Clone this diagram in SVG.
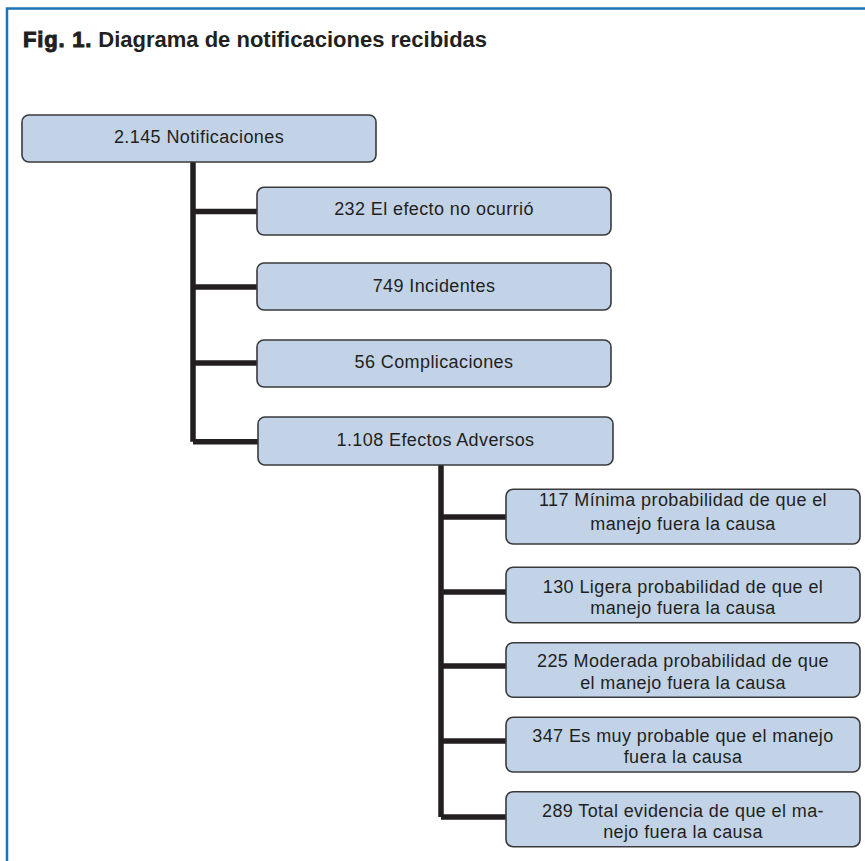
<svg xmlns="http://www.w3.org/2000/svg" width="865" height="861" viewBox="0 0 865 861">
<style>
.frame{stroke:#1b74b4;stroke-width:2.5;fill:none}
.box{fill:#c2d3e7;stroke:#3a3a3c;stroke-width:1.6}
.lbl{font-family:"Liberation Sans",Arial,sans-serif;font-size:18px;letter-spacing:0.4px;fill:#231f20;text-anchor:middle}
.conn{stroke:#231f20;stroke-width:5.5;fill:none}
.title{font-family:"Liberation Sans",Arial,sans-serif;font-size:22px;font-weight:bold;fill:#231f20}
</style>
<rect width="865" height="861" fill="#ffffff"/>
<path class="frame" d="M7,861 V8.5 H865"/>
<text class="title" x="23" y="47"><tspan stroke="#231f20" stroke-width="1" letter-spacing="0.8">Fig. 1.</tspan> Diagrama de notificaciones recibidas</text>
<g id="connectors">
<path class="conn" d="M193,162 V441.7 M193,211.5 H257 M193,287 H257 M193,363 H257 M193,441.7 H258"/>
<path class="conn" d="M441,465 V817 M441,517 H506 M441,592 H506 M441,666 H506 M441,741 H506 M441,817 H506"/>
</g>
<g id="n-root"><rect class="box" x="22" y="115" width="354" height="47" rx="7"/><text class="lbl" x="199" y="143">2.145 Notificaciones</text></g>
<g id="n-232"><rect class="box" x="257" y="187.3" width="354" height="47.7" rx="7"/><text class="lbl" x="434" y="215">232 El efecto no ocurrió</text></g>
<g id="n-749"><rect class="box" x="257" y="263" width="354" height="47" rx="7"/><text class="lbl" x="434" y="291.5">749 Incidentes</text></g>
<g id="n-56"><rect class="box" x="257" y="340" width="354" height="47" rx="7"/><text class="lbl" x="434" y="368">56 Complicaciones</text></g>
<g id="n-1108"><rect class="box" x="258" y="417" width="355" height="48" rx="7"/><text class="lbl" x="435.5" y="446">1.108 Efectos Adversos</text></g>
<g id="n-117"><rect class="box" x="506" y="489.3" width="354" height="54.7" rx="7"/><text class="lbl" x="683" y="506"><tspan x="683">117 Mínima probabilidad de que el</tspan><tspan x="683" y="530">manejo fuera la causa</tspan></text></g>
<g id="n-130"><rect class="box" x="506" y="567.3" width="354" height="55.4" rx="7"/><text class="lbl" x="683" y="592.7"><tspan x="683">130 Ligera probabilidad de que el</tspan><tspan x="683" y="614">manejo fuera la causa</tspan></text></g>
<g id="n-225"><rect class="box" x="506" y="642.7" width="354" height="54.6" rx="7"/><text class="lbl" x="683" y="667.3"><tspan x="683">225 Moderada probabilidad de que</tspan><tspan x="683" y="689.3">el manejo fuera la causa</tspan></text></g>
<g id="n-347"><rect class="box" x="506" y="717.3" width="354" height="54.7" rx="7"/><text class="lbl" x="683" y="741.7"><tspan x="683">347 Es muy probable que el manejo</tspan><tspan x="683" y="763.3">fuera la causa</tspan></text></g>
<g id="n-289"><rect class="box" x="506" y="791.7" width="354" height="55" rx="7"/><text class="lbl" x="683" y="816.7"><tspan x="683">289 Total evidencia de que el ma-</tspan><tspan x="683" y="838.3">nejo fuera la causa</tspan></text></g>
</svg>
